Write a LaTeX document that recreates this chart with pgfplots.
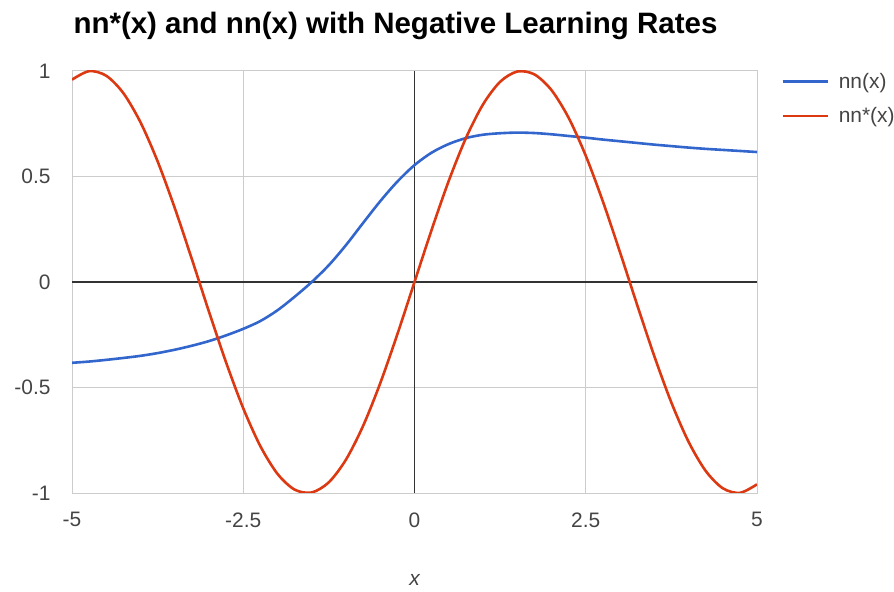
\documentclass[border=0pt]{standalone}
\usepackage{pgfplots}
\pgfplotsset{compat=1.18}
\usepackage{fontspec}
\setmainfont{Liberation Sans}

\definecolor{gblue}{HTML}{3366CC}
\definecolor{gred}{HTML}{DC3912}
\definecolor{ggrid}{HTML}{CCCCCC}
\definecolor{gzero}{HTML}{333333}
\definecolor{glabel}{HTML}{444444}

\begin{document}
\begin{tikzpicture}
\path[use as bounding box] (0,0) rectangle (894bp,592bp);
\node[anchor=base west, font=\fontsize{29.6}{32}\selectfont\bfseries] at (70bp,558bp)
  {nn*(x) and nn(x) with Negative Learning Rates};
\begin{axis}[
    scale only axis,
    width=685bp, height=422bp,
    at={(72bp,99bp)}, anchor=south west,
    xmin=-5, xmax=5, ymin=-1, ymax=1,
    xtick={-5,-2.5,0,2.5,5},
    xticklabels={-5,-2.5,0,2.5,5},
    ytick={-1,-0.5,0,0.5,1},
    yticklabels={-1,-0.5,0,0.5,1},
    major tick length=0pt,
    grid=major,
    grid style={ggrid, line width=1bp},
    axis line style={ggrid, line width=1bp},
    tick label style={font=\fontsize{21}{23}\selectfont, text=glabel},
    xticklabel style={yshift=-16bp},
    yticklabel style={xshift=-18bp},
    xlabel={\itshape x},
    xlabel style={at={(axis description cs:0.5,0)}, anchor=center, yshift=-87bp,
      font=\fontsize{21}{23}\selectfont, text=glabel},
    legend style={at={(axis description cs:1,1)}, anchor=north west,
      xshift=24bp, yshift=0bp, draw=none, fill=none,
      font=\fontsize{21}{23}\selectfont, text=glabel,
      row sep=14bp, inner sep=0pt},
    legend cell align=left,
    legend image code/.code={\draw[#1] (0bp,0bp) -- (45bp,0bp); \path (53bp,0bp);},
]
\draw[gzero, line width=1.5bp] (axis cs:0,-1) -- (axis cs:0,1);
\draw[gzero, line width=1.5bp] (axis cs:-5,0) -- (axis cs:5,0);

\addplot[gblue, line width=2.6bp, smooth] table {
x y
-5 -0.383
-4.75 -0.377
-4.5 -0.369
-4.25 -0.360
-4 -0.350
-3.75 -0.337
-3.5 -0.321
-3.25 -0.302
-3 -0.280
-2.75 -0.253
-2.5 -0.222
-2.25 -0.185
-2 -0.134
-1.75 -0.070
-1.5 0.0
-1.25 0.080
-1 0.175
-0.75 0.280
-0.5 0.383
-0.25 0.476
0 0.554
0.25 0.613
0.5 0.654
0.75 0.682
1 0.698
1.25 0.705
1.5 0.708
1.75 0.706
2 0.700
2.25 0.692
2.5 0.684
2.75 0.675
3 0.667
3.25 0.659
3.5 0.651
3.75 0.644
4 0.637
4.25 0.631
4.5 0.626
4.75 0.621
5 0.616
};
\addlegendentry{nn(x)}

\addplot[gred, line width=2.6bp, smooth] table {
x y
-5 0.9589
-4.75 0.9993
-4.5 0.9775
-4.25 0.8950
-4 0.7568
-3.75 0.5716
-3.5 0.3508
-3.25 0.1082
-3 -0.1411
-2.75 -0.3817
-2.5 -0.5985
-2.25 -0.7781
-2 -0.9093
-1.75 -0.9840
-1.5 -0.9975
-1.25 -0.9490
-1 -0.8415
-0.75 -0.6816
-0.5 -0.4794
-0.25 -0.2474
0 0
0.25 0.2474
0.5 0.4794
0.75 0.6816
1 0.8415
1.25 0.9490
1.5 0.9975
1.75 0.9840
2 0.9093
2.25 0.7781
2.5 0.5985
2.75 0.3817
3 0.1411
3.25 -0.1082
3.5 -0.3508
3.75 -0.5716
4 -0.7568
4.25 -0.8950
4.5 -0.9775
4.75 -0.9993
5 -0.9589
};
\addlegendentry{nn*(x)}
\end{axis}
\end{tikzpicture}
\end{document}
